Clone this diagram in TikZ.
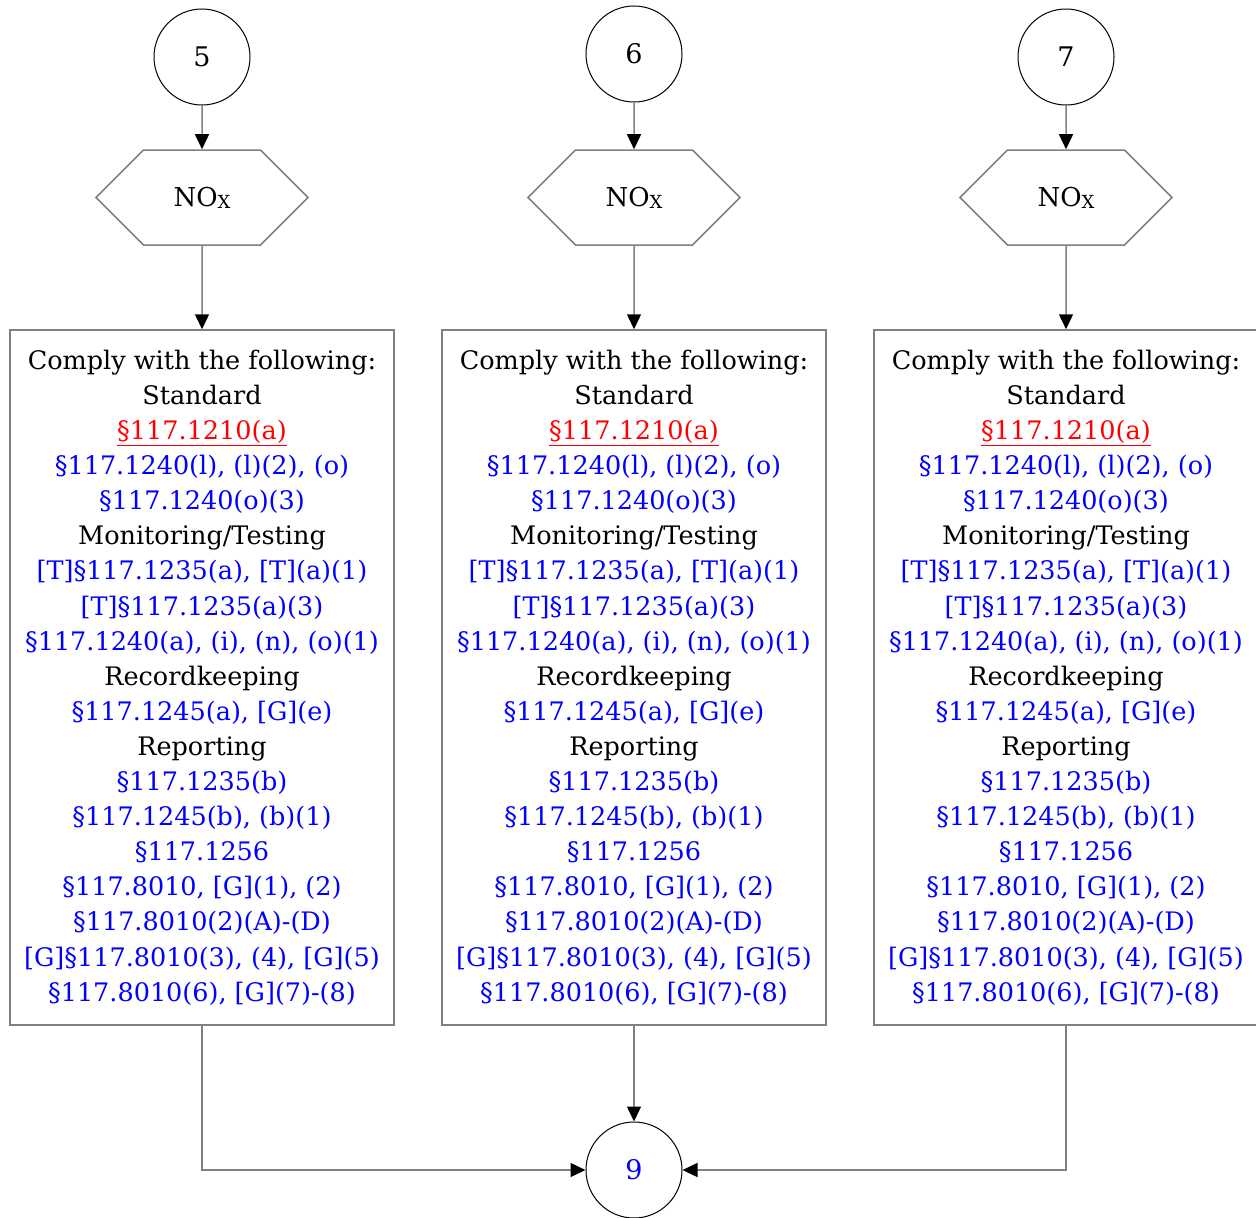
\documentclass[tikz,border=0pt]{standalone}
\usepackage{fontspec}
\setmainfont{DejaVu Serif}
\usetikzlibrary{arrows.meta,shapes.symbols}
\definecolor{linegray}{RGB}{128,128,128}
\definecolor{refblue}{RGB}{0,0,255}
\definecolor{refred}{RGB}{255,0,0}
\newcommand{\rb}[1]{\textcolor{refblue}{#1}}
\newcommand{\rr}[1]{\textcolor{refred}{\underline{#1}}}
\newcommand{\noxlabel}{NO\raisebox{-2pt}{\fontsize{18}{18}\selectfont X}}
\newcommand{\complytext}{Comply with the following:\\
Standard\\
\rr{§117.1210(a)}\\
\rb{§117.1240(l), (l)(2), (o)}\\
\rb{§117.1240(o)(3)}\\
Monitoring/Testing\\
\rb{[T]§117.1235(a), [T](a)(1)}\\
\rb{[T]§117.1235(a)(3)}\\
\rb{§117.1240(a), (i), (n), (o)(1)}\\
Recordkeeping\\
\rb{§117.1245(a), [G](e)}\\
Reporting\\
\rb{§117.1235(b)}\\
\rb{§117.1245(b), (b)(1)}\\
\rb{§117.1256}\\
\rb{§117.8010, [G](1), (2)}\\
\rb{§117.8010(2)(A)-(D)}\\
\rb{[G]§117.8010(3), (4), [G](5)}\\
\rb{§117.8010(6), [G](7)-(8)}}
\tikzset{
	conn/.style = {draw=linegray, line width=1.5pt, -{Triangle[length=15pt,width=14pt,color=black]}},
	term/.style = {circle, draw, line width=1pt, minimum size=96pt, inner sep=0pt, font=\fontsize{27}{30}\selectfont},
	pollutant/.style = {signal, signal to=east and west, signal pointer angle=90, draw=linegray, line width=1.5pt, minimum width=212pt, minimum height=95pt, inner sep=0pt, font=\fontsize{26}{30}\selectfont},
	reqbox/.style = {rectangle, draw=linegray, line width=1.5pt, minimum width=384pt, minimum height=695pt, inner sep=0pt, align=center, font=\fontsize{25.5}{35.1}\selectfont}
}
\begin{document}
\begin{tikzpicture}[x=1pt, y=-1pt]
	\useasboundingbox (0,0) rectangle (1256,1218);
	% Draw entry circles
	\node [term] (c5) at (202,57) {5};
	\node [term] (c6) at (634,54) {6};
	\node [term] (c7) at (1066,57) {7};
	% Draw pollutant hexagons
	\node [pollutant] (h5) at (202,197.5) {\noxlabel};
	\node [pollutant] (h6) at (634,197.5) {\noxlabel};
	\node [pollutant] (h7) at (1066,197.5) {\noxlabel};
	% Draw requirement boxes
	\node [reqbox] (b5) at (202,677.5) {\complytext};
	\node [reqbox] (b6) at (634,677.5) {\complytext};
	\node [reqbox] (b7) at (1066,677.5) {\complytext};
	% Draw exit circle
	\node [term, text=refblue] (c9) at (634,1170) {9};

	\draw [conn] (c5) -- (h5);
	\draw [conn] (c6) -- (h6);
	\draw [conn] (c7) -- (h7);

	\draw [conn] (h5) -- (b5);
	\draw [conn] (h6) -- (b6);
	\draw [conn] (h7) -- (b7);

	\draw [conn] (b5.south) |- (c9.west);
	\draw [conn] (b6) -- (c9);
	\draw [conn] (b7.south) |- (c9.east);
\end{tikzpicture}
\end{document}
